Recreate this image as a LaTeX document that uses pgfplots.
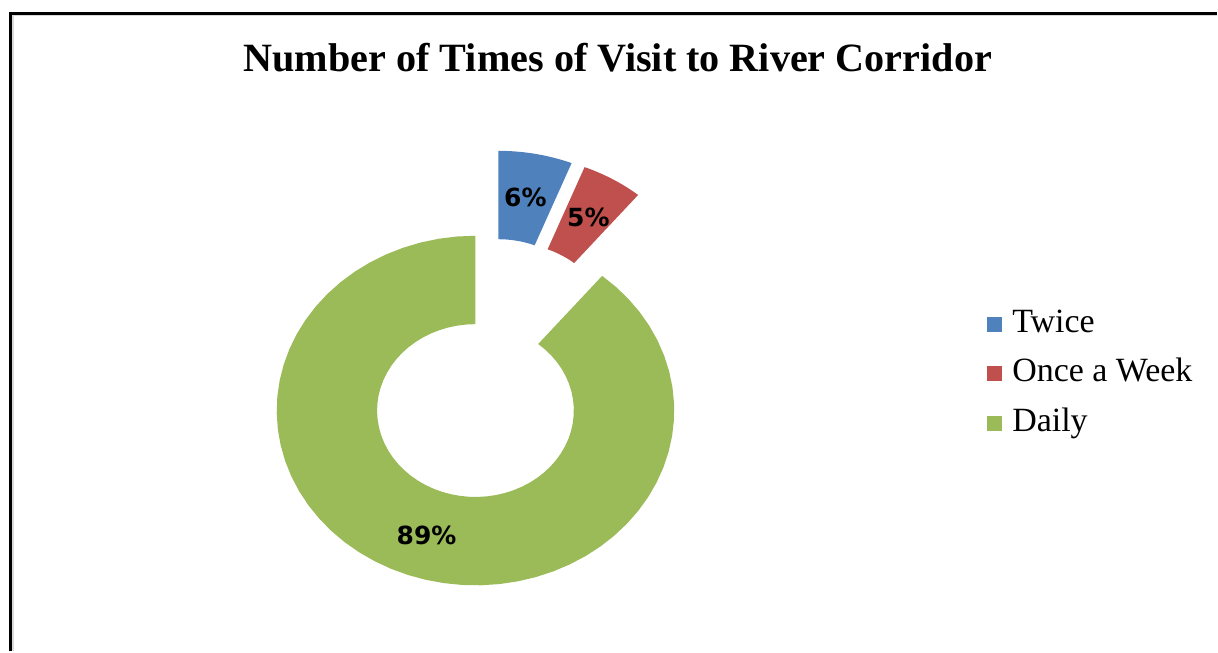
\documentclass[border=0pt]{standalone}
\usepackage{pgfplots}
\pgfplotsset{compat=1.18}
\usepackage{fontspec}
\setmainfont{Liberation Serif}
\newfontfamily\lblfont{DejaVu Sans}
\definecolor{cTwice}{HTML}{4F81BD}
\definecolor{cWeek}{HTML}{C0504D}
\definecolor{cDaily}{HTML}{9BBB59}
% data (percent)
\def\vTwice{6}
\def\vWeek{5}
\def\vDaily{89}
\pgfmathsetmacro\aA{90}
\pgfmathsetmacro\aB{\aA-3.6*\vTwice}
\pgfmathsetmacro\aC{\aB-3.6*\vWeek}
\pgfmathsetmacro\aD{\aC-3.6*\vDaily}
% annular sector: color, start, end, cx, cy, legend
\newcommand{\slice}[6]{%
\addplot[draw=none, fill=#1, variable=\t, samples at={0,...,121}]
 ({#4 + ((\t<60.5)?199:98.5)*cos((\t<60.5)?((#2)+((#3)-(#2))*\t/60):((#3)+((#2)-(#3))*(\t-61)/60))},
  {#5 - ((\t<60.5)?175:86.5)*sin((\t<60.5)?((#2)+((#3)-(#2))*\t/60):((#3)+((#2)-(#3))*(\t-61)/60))});
\addlegendentry{#6}
}
\begin{document}
\begin{tikzpicture}
\begin{axis}[
  scale only axis, width=609pt, height=326pt,
  xmin=0, xmax=1218, ymin=0, ymax=652, y dir=reverse,
  enlargelimits=false, hide axis, clip=false,
  legend image code/.code={\fill[#1] (0pt,-3.75pt) rectangle (7.5pt,3.75pt);},
  legend style={draw=none, fill=none, inner sep=0pt, at={(axis cs:988,308)}, anchor=north west,
    font=\fontsize{17}{19}\selectfont, row sep=9pt, column sep=5pt,
    nodes={inner sep=0pt, text height=12pt, text depth=4pt}},
  legend cell align=left,
]
\path (axis cs:0,0) rectangle (axis cs:1218,652);
% frame
\draw[black!15, line width=1pt] (axis cs:13.3,652) -- (axis cs:13.3,15.5) -- (axis cs:1218,15.5);
\draw[black, line width=1.4pt] (axis cs:10.7,652) -- (axis cs:10.7,13.2) -- (axis cs:1218,13.2);
% title
\node[anchor=base, font=\fontsize{20.1}{23}\selectfont\bfseries] at (axis cs:618.5,71.5) {Number of Times of Visit to River Corridor};
% slices
\slice{cTwice}{\aA}{\aB}{499}{326}{Twice}
\slice{cWeek}{\aB}{\aC}{512}{330}{Once a Week}
\slice{cDaily}{\aC}{\aD}{476}{411}{Daily}
% labels
\node[font=\lblfont\bfseries\fontsize{12.5}{14}\selectfont] at (axis cs:526,198) {6\%};
\node[font=\lblfont\bfseries\fontsize{12.5}{14}\selectfont] at (axis cs:589,218) {5\%};
\node[font=\lblfont\bfseries\fontsize{12.5}{14}\selectfont] at (axis cs:427,536) {89\%};
\end{axis}
\end{tikzpicture}
\end{document}
